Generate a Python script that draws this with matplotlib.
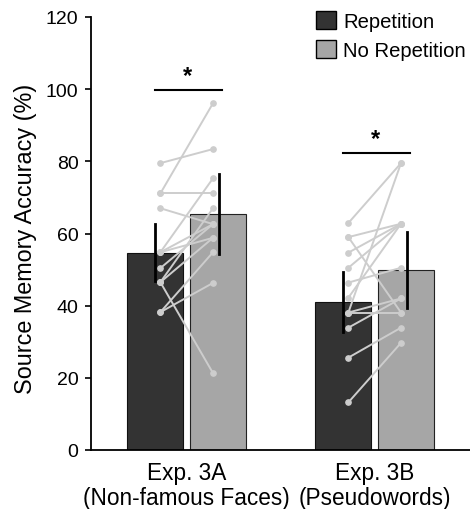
import matplotlib
matplotlib.use("Agg")
import matplotlib.pyplot as plt
from matplotlib.patches import Patch

plt.rcParams['font.family'] = ['Liberation Sans', 'DejaVu Sans']

# 資料
groups = ['Exp. 3A\n(Non-famous Faces)', 'Exp. 3B\n(Pseudowords)']
rep_mean = [54.7, 40.9]
norep_mean = [65.4, 49.9]
rep_err = [8.0, 8.3]
norep_err = [11.2, 10.5]

# 個別受試者 (Repetition, No Repetition)
subj_3a_rep = [79.5, 71.1, 71.1, 67.0, 54.8, 54.8, 54.8, 50.4, 46.5, 46.5, 46.5, 38.2, 38.2]
subj_3a_norep = [83.4, 96.1, 71.1, 62.6, 75.3, 62.6, 58.8, 62.6, 67.0, 58.8, 21.3, 54.8, 46.3]
subj_3b_rep = [62.9, 59.0, 59.0, 54.7, 50.5, 46.4, 42.2, 38.1, 38.1, 38.1, 33.9, 25.6, 13.2]
subj_3b_norep = [79.5, 62.7, 38.1, 62.7, 62.7, 50.5, 62.7, 79.5, 42.0, 38.1, 42.0, 33.9, 29.7]

sig_y = [99.8, 82.3]

dark = '#333333'
light = '#a6a6a6'
width = 0.297
off = 0.167
pt_off = 0.14

fig = plt.figure(figsize=(4.7, 5.1), dpi=100)
ax = fig.add_axes([91 / 470, 59 / 510, 379 / 470, 433 / 510])

xs = [0, 1]
ax.bar([x - off for x in xs], rep_mean, width, color=dark, edgecolor='#111111', linewidth=0.8, zorder=1)
ax.bar([x + off for x in xs], norep_mean, width, color=light, edgecolor='#222222', linewidth=0.8, zorder=1)

# 個別線
for i, (r, n) in enumerate([(subj_3a_rep, subj_3a_norep), (subj_3b_rep, subj_3b_norep)]):
    for a, b in zip(r, n):
        ax.plot([xs[i] - pt_off, xs[i] + pt_off], [a, b], color='#cdcdcd', lw=1.4,
                marker='o', ms=3.8, zorder=2)

# 誤差線
for i in range(2):
    ax.plot([xs[i] - off, xs[i] - off], [rep_mean[i] - rep_err[i], rep_mean[i] + rep_err[i]],
            color='black', lw=2, zorder=3)
    ax.plot([xs[i] + off + 0.006, xs[i] + off + 0.006],
            [norep_mean[i] - norep_err[i], norep_mean[i] + norep_err[i]],
            color='black', lw=2, zorder=3)

# 顯著標記
for i in range(2):
    ax.plot([xs[i] - off, xs[i] + off + 0.022], [sig_y[i], sig_y[i]], color='black', lw=1.5)
    ax.text(xs[i] + 0.005, sig_y[i] + 0.8, '*', ha='center', va='bottom', fontsize=17, fontweight='bold')

ax.set_xlim(-0.509, 1.507)
ax.set_ylim(0, 120)
ax.set_yticks(range(0, 121, 20))
ax.set_xticks(xs)
ax.set_xticklabels(groups, fontsize=16.3, linespacing=1.1)
ax.tick_params(axis='x', length=0, pad=8)
ax.tick_params(axis='y', labelsize=14, length=4, direction='out', width=1.2, pad=5)
ax.set_ylabel('Source Memory Accuracy (%)', fontsize=16.8)
ax.yaxis.set_label_coords(-0.143, 0.49)
for s in ['top', 'right']:
    ax.spines[s].set_visible(False)
for s in ['left', 'bottom']:
    ax.spines[s].set_linewidth(1.3)

handles = [Patch(facecolor=dark, edgecolor='black', label='Repetition'),
           Patch(facecolor=light, edgecolor='black', label='No Repetition')]
ax.legend(handles=handles, loc='upper right', bbox_to_anchor=(466 / 470, 498 / 510),
          bbox_transform=fig.transFigure, frameon=False,
          fontsize=14.6, handlelength=1.0, handleheight=1.0, handletextpad=0.35,
          labelspacing=0.45, borderaxespad=0.0, borderpad=0.0)

fig.savefig('out.png', dpi=100)
